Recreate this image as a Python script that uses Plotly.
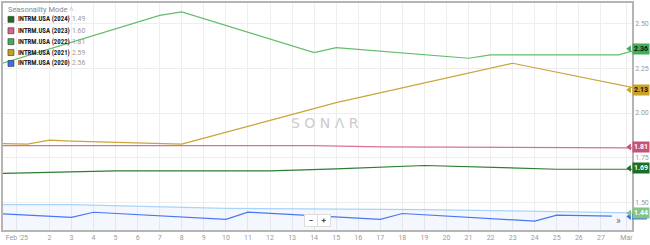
import plotly.graph_objects as go

# ---- data (x = day of Feb 2025, fractional ends run past the visible window) ----
x_2022 = [-0.5, 7, 8, 14, 15, 21, 22, 27.8, 28.5]
v_2022 = [2.265, 2.547, 2.567, 2.339, 2.367, 2.307, 2.326, 2.326, 2.35]

x_2021 = [-0.5, 1, 2, 3, 8, 15, 23, 28.5]
v_2021 = [1.829, 1.826, 1.848, 1.843, 1.826, 2.058, 2.279, 2.141]

x_2023 = [-0.5, 14, 17, 23, 28.5]
v_2023 = [1.817, 1.817, 1.810, 1.808, 1.805]

x_2024 = [-0.5, 3, 5, 12, 15, 19, 25, 28.5]
v_2024 = [1.661, 1.672, 1.676, 1.676, 1.687, 1.706, 1.685, 1.685]

x_2020 = [-0.5, 3, 4, 10, 11, 14, 15, 17, 18, 24, 25, 27.5]
v_2020 = [1.437, 1.415, 1.444, 1.404, 1.444, 1.424, 1.421, 1.404, 1.437, 1.394, 1.428, 1.422]

x_band = [-0.5, 3, 10, 19, 28.5]
v_band = [1.487, 1.487, 1.466, 1.459, 1.440]

legend_names = ["INTRM.USA (2024)", "INTRM.USA (2023)", "INTRM.USA (2022)",
                "INTRM.USA (2021)", "INTRM.USA (2020)"]
legend_values = ["1.49", "1.60", "1.81", "2.59", "2.56"]
legend_colors = ["#1f6e1f", "#d8628e", "#3fae58", "#c8a020", "#3a6ef5"]

x_tickvals = [0.527] + list(range(2, 28)) + [28.16]
x_ticktext = ["Feb '25"] + [str(d) for d in range(2, 28)] + ["Mar"]
y_tickvals = [1.50, 1.75, 2.00, 2.25, 2.50]

hidden_flag = (1.42, "#3a6ef5")   # blue flag mostly hidden under the 1.44 flag
end_labels = [  # value, bg, text colour
    (2.36, "#3fae58", "#111111"),
    (2.13, "#c9a227", "#111111"),
    (1.81, "#c9507d", "#ffffff"),
    (1.69, "#1c6e22", "#ffffff"),
    (1.44, "#86c386", "#ffffff"),
]

X_RANGE = [-0.104, 28.41]
Y_RANGE = [1.3444, 2.6167]

# pixel helpers (plot area: x 1..634, y 1..230)
def px(x):
    return (x - 1) / 633.0

def py(y):
    return (230 - y) / 229.0

fig = go.Figure()

fig.add_trace(go.Scatter(x=x_band, y=v_band, mode="lines",
                         line=dict(color="#a8d4fb", width=1.2),
                         fill="tozeroy", fillcolor="rgba(110,150,225,0.08)",
                         hoverinfo="skip"))
fig.add_trace(go.Scatter(x=x_2020, y=v_2020, mode="lines",
                         line=dict(color="#4a76f5", width=1.2)))
fig.add_trace(go.Scatter(x=x_2024, y=v_2024, mode="lines",
                         line=dict(color="#2e7d32", width=1.2)))
fig.add_trace(go.Scatter(x=x_2023, y=v_2023, mode="lines",
                         line=dict(color="#d7719a", width=1.2)))
fig.add_trace(go.Scatter(x=x_2021, y=v_2021, mode="lines",
                         line=dict(color="#caa43c", width=1.2)))
fig.add_trace(go.Scatter(x=x_2022, y=v_2022, mode="lines",
                         line=dict(color="#62bd6e", width=1.2)))

annotations = []
shapes = []

# hidden blue flag (just a colored strip)
hv, hc = hidden_flag
dv = (Y_RANGE[1] - Y_RANGE[0]) / 229.0
shapes.append(dict(type="rect", xref="paper", yref="y", x0=px(634), x1=px(649),
                   y0=hv - 3 * dv, y1=hv + 3 * dv, fillcolor=hc, line=dict(width=0),
                   layer="above"))
fig.add_trace(go.Scatter(x=[X_RANGE[1] - 0.12], y=[hv], mode="markers",
                         marker=dict(symbol="triangle-left", size=6, color=hc),
                         cliponaxis=False, hoverinfo="skip"))

# right-side value flags
for val, bg, fg in end_labels:
    fig.add_trace(go.Scatter(x=[X_RANGE[1] - 0.12], y=[val], mode="markers",
                             marker=dict(symbol="triangle-left", size=6, color=bg),
                             cliponaxis=False, hoverinfo="skip"))
    annotations.append(dict(xref="paper", yref="y", x=1, y=val, xanchor="left",
                            yanchor="middle", xshift=-0.5, text="<b>%.2f</b>" % val,
                            showarrow=False, bgcolor=bg, borderpad=1,
                            font=dict(size=7, color=fg, family="Roboto")))

# legend header
annotations.append(dict(xref="paper", yref="paper", x=px(4), y=py(8), xanchor="left",
                        yanchor="middle", showarrow=False,
                        text="Seasonality Mode <span style='color:#5b9be6'>˄</span>",
                        font=dict(size=7.5, color="#8a8a8a", family="Roboto")))
rows_y = [17.5, 29, 40, 51, 62]
for name, val, col, yy in zip(legend_names, legend_values, legend_colors, rows_y):
    shapes.append(dict(type="rect", xref="paper", yref="paper",
                       x0=px(6), x1=px(12), y0=py(yy + 3), y1=py(yy - 3),
                       fillcolor=col, line=dict(color="#333333", width=0.6)))
    annotations.append(dict(xref="paper", yref="paper", x=px(14), y=py(yy),
                            xanchor="left", yanchor="middle", showarrow=False,
                            text="<b>%s</b>" % name,
                            font=dict(size=6.8, color="#222222",
                                      family="Liberation Sans Narrow, Roboto Condensed, Arial Narrow, sans-serif")))
    annotations.append(dict(xref="paper", yref="paper", x=px(68), y=py(yy),
                            xanchor="left", yanchor="middle", showarrow=False,
                            text=val, font=dict(size=6.8, color="#9a9a9a", family="Roboto")))

# watermark
annotations.append(dict(xref="paper", yref="paper", x=px(325), y=py(122),
                        xanchor="center", yanchor="middle", showarrow=False,
                        text="S O N Λ R",
                        font=dict(size=14, color="#cccccc", family="DejaVu Sans")))

# zoom buttons and scroll marker
annotations.append(dict(xref="paper", yref="paper", x=px(311), y=py(220),
                        xanchor="center", yanchor="middle", showarrow=False,
                        text="<b>−</b>", bgcolor="#ffffff", bordercolor="#dddddd",
                        borderwidth=1, borderpad=1, width=10,
                        font=dict(size=8, color="#444444", family="Roboto")))
annotations.append(dict(xref="paper", yref="paper", x=px(324), y=py(220),
                        xanchor="center", yanchor="middle", showarrow=False,
                        text="<b>+</b>", bgcolor="#ffffff", bordercolor="#dddddd",
                        borderwidth=1, borderpad=1, width=10,
                        font=dict(size=8, color="#444444", family="Roboto")))
annotations.append(dict(xref="paper", yref="paper", x=px(620), y=py(220),
                        xanchor="center", yanchor="middle", showarrow=False,
                        text="»", font=dict(size=10, color="#777777", family="Roboto")))

fig.update_layout(
    width=650, height=245,
    margin=dict(l=1, r=16, t=1, b=15),
    paper_bgcolor="#ffffff", plot_bgcolor="#ffffff",
    showlegend=False,
    annotations=annotations, shapes=shapes,
    font=dict(family="Roboto", size=7, color="#999999"),
    xaxis=dict(range=X_RANGE, tickmode="array", tickvals=x_tickvals, ticktext=x_ticktext,
               showgrid=True, gridcolor="#eeeeee", gridwidth=1, zeroline=False,
               showline=True, linecolor="#b5b5b5", linewidth=1.5, mirror=True,
               ticks="", tickfont=dict(size=7, color="#9a9a9a")),
    yaxis=dict(range=Y_RANGE, side="right", tickmode="array", tickvals=y_tickvals,
               tickformat=".2f", showgrid=True, gridcolor="#eeeeee", gridwidth=1,
               zeroline=False, showline=True, linecolor="#b5b5b5", linewidth=1.5,
               mirror=True, ticks="", tickfont=dict(size=7, color="#9a9a9a")),
)

fig.write_html("out.html")
